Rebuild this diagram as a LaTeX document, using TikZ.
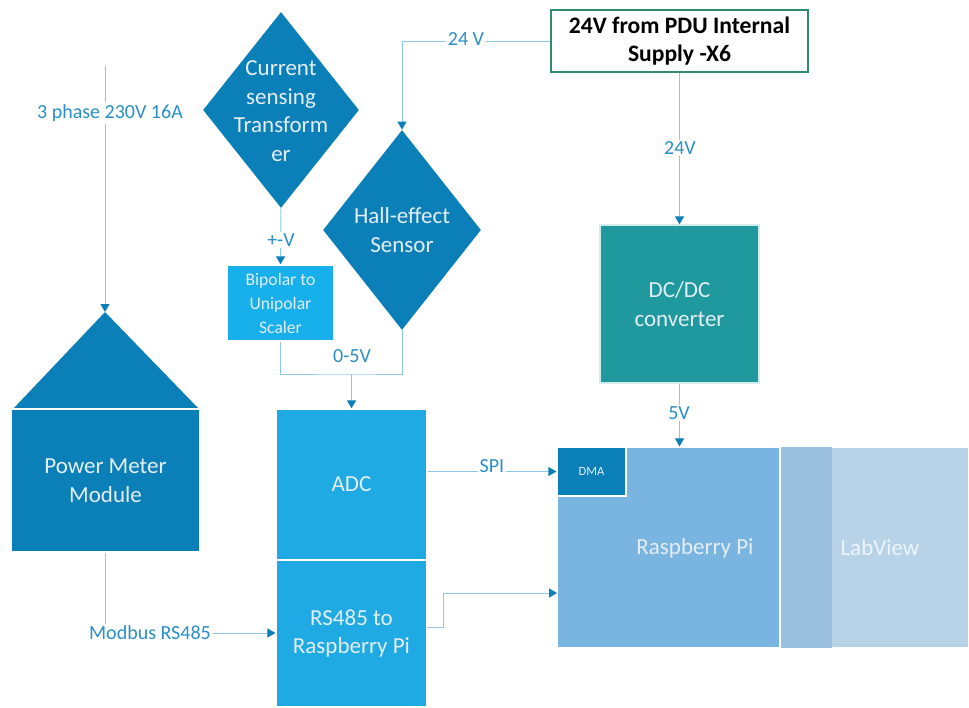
\documentclass[tikz,border=0pt]{standalone}
\usepackage{fontspec}
\setmainfont{Carlito}
\usetikzlibrary{arrows.meta,shapes.geometric}
\definecolor{deepblue}{HTML}{0B80B8}
\definecolor{brightblue}{HTML}{18B0EA}
\definecolor{adcblue}{HTML}{1FAAE3}
\definecolor{tealbox}{HTML}{1F999E}
\definecolor{piblue}{HTML}{7AB5E2}
\definecolor{stripblue}{HTML}{9BC0E0}
\definecolor{labblue}{HTML}{B8D3E8}
\definecolor{tagblue}{HTML}{2A8FC6}
\definecolor{wireblue}{HTML}{8DC9E6}
\definecolor{pdugreen}{HTML}{2E8B6B}
\definecolor{paletext}{HTML}{E4EDF4}
\begin{document}
\begin{tikzpicture}
  [x=0.5pt,y=-0.5pt,
   every node/.style={inner sep=0pt, align=center, text=paletext, font=\fontsize{11.5}{14.3}\selectfont},
   sensor/.style={diamond, fill=deepblue},
   block/.style={rectangle, draw=white, line width=0.6pt},
   tag/.style={text=tagblue, fill=white, inner sep=1pt, font=\fontsize{10}{12}\selectfont},
   wire/.style={draw=wireblue, line width=0.5pt},
   feed/.style={wire, -{Triangle[length=4pt, width=4.5pt, color=deepblue]}}]
  \useasboundingbox (0,0) rectangle (969,707);

  \node[sensor, minimum width=78pt, minimum height=98pt] (cst) at (281,110) {};
  \node (csttext) at (281,111) {Current\\sensing\\Transform\\er};
  \node[sensor, minimum width=79pt, minimum height=100pt] (hall) at (402,230) {};
  \node (halltext) at (402,230) {Hall-effect\\Sensor};
  \node[block, draw=pdugreen, line width=1.2pt, fill=white, text=black, minimum width=128.5pt, minimum height=31pt,
        font=\bfseries\fontsize{11.8}{14}\selectfont] (pdu) at (679.5,41) {24V from PDU Internal\\Supply -X6};
  \node[block, draw=white!80!tealbox, fill=tealbox, minimum width=79.5pt, minimum height=79pt] (dcdc) at (679.5,304) {DC/DC\\converter};
  \node[block, fill=brightblue, minimum width=53.5pt, minimum height=38pt,
        font=\fontsize{8.8}{12}\selectfont] (scaler) at (280.5,303) {Bipolar to\\Unipolar\\Scaler};
  \node[block, fill=adcblue, minimum width=75.5pt, minimum height=75.5pt] (adc) at (351.5,484.5) {ADC};
  \node[block, fill=adcblue, minimum width=75.5pt, minimum height=73.5pt] (rs485) at (351.5,633.5) {RS485 to\\Raspberry Pi};

  \coordinate (pmtop) at (105,312);
  \fill[deepblue] (pmtop) -- (199,409) -- (13,409) -- cycle;
  \node[block, fill=deepblue, minimum width=94.5pt, minimum height=71.5pt] (pmm) at (105.5,480.5) {Power Meter\\Module};

  \node[block, fill=labblue, minimum width=94.5pt, minimum height=100.5pt] (labview) at (874.5,547.5) {};
  \fill[stripblue] ([shift={(0.3pt,-0.3pt)}]labview.north west) rectangle ([shift={(26.5pt,0.3pt)}]labview.south west);
  \node[text=white!75!labblue] (labtext) at (880,548) {LabView};
  \node[block, fill=piblue, minimum width=111.5pt, minimum height=100.5pt] (rpi) at (668.5,547.5) {};
  \node (pitext) at (695,548) {Raspberry Pi};
  \node[block, fill=deepblue, minimum width=34.5pt, minimum height=24.5pt,
        font=\fontsize{6.3}{8}\selectfont] (dma) at (591.5,471.5) {DMA};

  \coordinate (phasetop) at (105,66);
  \coordinate (join) at (351.5,374);
  \coordinate (rsout) at (427,627);
  \coordinate (piin) at (557,593);

  \draw[feed] (phasetop) -- (pmtop);
  \draw[feed] (pdu.west) -| (hall.north);
  \draw[feed] (pdu.south) -- (dcdc.north);
  \draw[feed] (dcdc.south) -- (dcdc.south |- rpi.north);
  \draw[feed] (cst.south) -- (scaler.north);
  \draw[wire] (scaler.south) |- (join) -| (hall.south);
  \draw[feed] (join) -- (adc.north);
  \draw[feed] (adc.east |- dma.west) -- (dma.west);
  \draw[feed] (rsout) -- ++(16,0) |- (piin);

  \node[tag] (phase) at (110,113) {3 phase 230V 16A};
  \node[tag] (upv) at (466,39) {24 V};
  \node[tag] (dcv) at (680,148) {24V};
  \node[tag] (piv) at (679,413) {5V};
  \node[tag] (pmv) at (281,240) {+-V};
  \node[tag] (adcv) at (352,356) {0-5V};
  \node[tag] (spi) at (492,466) {SPI};
  \node[tag] (modbus) at (150,633) {Modbus RS485};

  \draw[wire] (pmm.south) -- (pmm.south |- modbus.north);
  \draw[feed] (modbus.east) -- (modbus.east -| rs485.west);
\end{tikzpicture}
\end{document}
